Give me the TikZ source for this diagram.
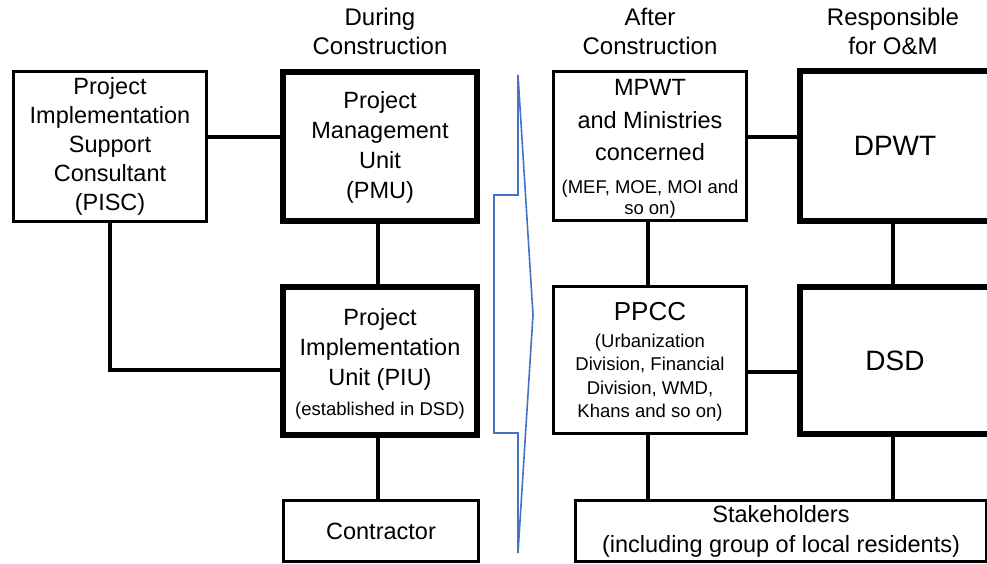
\documentclass[tikz,border=0pt]{standalone}
\usepackage{fontspec}
\setmainfont{Liberation Sans}
\definecolor{chevblue}{RGB}{68,114,196}
\newcommand\mainsz{\fontsize{23.5}{30}\selectfont}
\newcommand\smsz{\fontsize{18.5}{21.5}\selectfont}
\newcommand\bigsz{\fontsize{28}{32}\selectfont}
\newcommand\topstrut[1]{\rule{0pt}{#1}}
\begin{document}
\begin{tikzpicture}[x=1pt,y=-1pt,
  thinbox/.style={draw, line width=3.5pt, inner sep=0pt, align=center, font=\mainsz},
  thickbox/.style={draw, line width=6pt, inner sep=0pt, align=center, font=\mainsz},
  link/.style={line width=3.5pt},
  hdr/.style={align=center, font=\fontsize{24}{29}\selectfont, inner sep=0pt},
  chev/.style={draw=chevblue, line width=1.6pt, line join=miter}]
\useasboundingbox (0,0) rectangle (987,564);
\clip (0,0) rectangle (987,564);

% headers
\node[hdr] (h1) at (380,31.5) {During\\Construction};
\node[hdr] (h2) at (650,31.5) {After\\Construction};
\node[hdr] (h3) at (893,31.5) {Responsible\\for O\&M};

% left side
\node[thinbox, minimum width=193pt, minimum height=150pt, font=\fontsize{23.5}{29}\selectfont] (pisc) at (110,146.5)
  {Project\\Implementation\\Support\\Consultant\\(PISC)};
\node[thickbox, minimum width=194pt, minimum height=149pt] (pmu) at (380,146.5)
  {\topstrut{19pt}Project\\Management\\Unit\\(PMU)};
\node[thickbox, minimum width=194pt, minimum height=148pt] (piu) at (380,361)
  {\topstrut{23pt}Project\\Implementation\\Unit (PIU)\\[0pt]\smsz(established in DSD)};
\node[thinbox, minimum width=195pt, minimum height=61pt] (con) at (381,531)
  {Contractor};

% chevron
\draw[chev] (518,75) -- (533,315) -- (518,553)
  -- (518,433) -- (494,433) -- (494,195) -- (518,195) -- cycle;

% right side
\node[thinbox, minimum width=193pt, minimum height=149pt] (mpwt) at (650,146)
  {\topstrut{22pt}MPWT\\[3pt]and Ministries\\[2pt]concerned\\[3pt]\smsz(MEF, MOE, MOI and\\[-9pt]\smsz so on)};
\node[thinbox, minimum width=193pt, minimum height=147pt] (ppcc) at (650,360)
  {\fontsize{26}{30}\selectfont\topstrut{22pt}PPCC\\[-3pt]\smsz(Urbanization\\[-6.5pt]\smsz Division, Financial\\[-6.5pt]\smsz Division, WMD,\\[-6.5pt]\smsz Khans and so on)};
\node[thickbox, minimum width=190pt, minimum height=149pt, font=\bigsz] (dpwt) at (895,146)
  {DPWT};
\node[thickbox, minimum width=190pt, minimum height=147pt, font=\bigsz] (dsd) at (895,360.5)
  {DSD};
\node[thinbox, minimum width=411pt, minimum height=61pt] (stake) at (781,531)
  {Stakeholders\\(including group of local residents)};

% connectors
\draw[link] (pisc.east |- 0,137) -- (pmu.west |- 0,137);
\draw[link] (pisc.south) |- (piu.west |- 0,370);
\draw[link] (pmu.south -| 378,0) -- (piu.north -| 378,0);
\draw[link] (piu.south -| 378,0) -- (con.north -| 378,0);
\draw[link] (mpwt.east |- 0,137) -- (dpwt.west |- 0,137);
\draw[link] (mpwt.south -| 648,0) -- (ppcc.north -| 648,0);
\draw[link] (dpwt.south -| 893,0) -- (dsd.north -| 893,0);
\draw[link] (ppcc.east |- 0,372) -- (dsd.west |- 0,372);
\draw[link] (ppcc.south -| 648,0) -- (stake.north -| 648,0);
\draw[link] (dsd.south -| 893,0) -- (stake.north -| 893,0);
\end{tikzpicture}
\end{document}
